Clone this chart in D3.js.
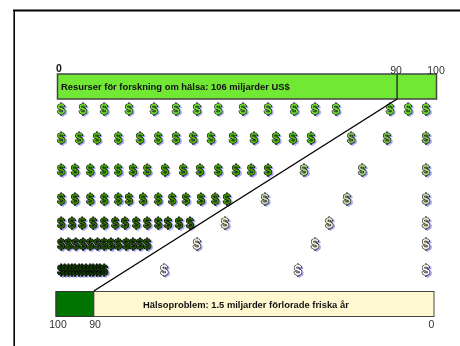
<!DOCTYPE html>
<html><head><meta charset="utf-8">
<script src="https://cdn.jsdelivr.net/npm/d3@7"></script>
<style>html,body{margin:0;background:#fff}svg{display:block;will-change:transform}</style></head>
<body><svg id="c" width="460" height="346"></svg>
<script>
const topTitle = "Resurser för forskning om hälsa: 106 miljarder US$";
const bottomTitle = "Hälsoproblem: 1.5 miljarder förlorade friska år";
const topTicks = [0, 90, 100];
const bottomTicks = [100, 90, 0];
const shareSplitTop = 89.5;
const shareSplitBottom = 90;
const rowLevels = [1, 2, 3, 4, 5, 6, 7];
const row1 = [1.1,6.8,12.4,18.9,25.5,31.3,36.8,42.4,48.9,55.5,62.4,67.9,73.4,87.6,92.4,97.1];
const row2 = [1.1,5.8,10.5,16.1,21.8,26.6,31.3,35.8,40.5,46.3,51.8,57.6,62.1,66.8,77.4,86.8,97.1];
const row3 = [1.1,4.7,8.7,12.4,16.1,20,23.7,28.4,33.2,37.6,42.4,47.1,51.1,55.5,65,80.3,97.1];
const row4 = [1.1,4.7,8.7,12.4,16.1,18.9,22.6,26.6,30.3,33.9,37.9,41.6,44.7,54.7,76.3,97.1];
const row5 = [1.1,3.9,6.6,9.5,12.4,15.3,17.9,20.8,23.7,26.6,29.2,32.1,35,44.2,71.6,97.1];
const row6 = [1.1,3,4.9,6.8,8.7,10.6,12.4,14.2,16.1,18.2,20,21.8,23.7,36.8,67.9,97.1];
const row7 = [1.1,2,3,3.9,4.7,5.8,6.6,7.6,8.7,9.5,10.5,11.3,12.4,28.2,63.4,97.1];
const rows = [row1,row2,row3,row4,row5,row6,row7];
const leftCounts = [16,14,14,13,13,13,13];
const leftColors = ["#70e030","#55c010","#44a800","#3f9000","#2f6b00","#1f5000","#123a00"];
const rightColors = ["#70e030","#80c050","#a8d880","#c8dcb0","#efecc8","#f6f2dc","#ffffff"];

const svg = d3.select("#c");
const x = d3.scaleLinear().domain([0,100]).range([57,437]);
const xb = d3.scaleLinear().domain([100,0]).range([56,434]);
const rowY = d3.scaleOrdinal().domain(rowLevels).range([114,142.5,174.5,203.5,227.5,249,274.5]);
const font = "'Liberation Sans',Arial,sans-serif";

svg.append("path").attr("d","M14 346V10.5H460").attr("fill","none").attr("stroke","#000").attr("stroke-width",2);
svg.append("path").attr("d","M13.5 346V11").attr("fill","none").attr("stroke","#666").attr("stroke-width",1);

svg.append("rect").attr("x",x(0)+.5).attr("y",74).attr("width",x(100)-x(0)-1).attr("height",25)
  .attr("fill","#70e834").attr("stroke","#444").attr("stroke-width",1.5);
svg.append("line").attr("x1",x(shareSplitTop)).attr("x2",x(shareSplitTop)).attr("y1",74).attr("y2",99).attr("stroke","#333").attr("stroke-width",1.5);
svg.append("text").attr("x",x(0)+4).attr("y",90).attr("font-family",font).attr("font-weight","bold").attr("font-size",9.4).attr("fill","#111").text(topTitle);

const glyph = (g,px,py,fill,stroke,sw) => g.append("text").attr("x",px).attr("y",py).attr("text-anchor","middle")
  .attr("font-family",font).attr("font-weight","bold").attr("font-size",14)
  .attr("fill",fill).attr("stroke",stroke).attr("stroke-width",sw).attr("paint-order","stroke").text("$");

rows.forEach((r,i)=>{
  const g = svg.append("g");
  const py = rowY(rowLevels[i]);
  r.forEach((v,j)=>{
    const fill = j < leftCounts[i] ? leftColors[i] : rightColors[i];
    glyph(g,x(v)+1.6,py+1.3,"#a8a8f4","#a8a8f4",1.1);
    glyph(g,x(v),py,fill,"#000",1.1);
  });
});

svg.append("line").attr("x1",x(shareSplitTop)).attr("y1",99).attr("x2",xb(shareSplitBottom)).attr("y2",291).attr("stroke","#000").attr("stroke-width",1.4);

svg.append("rect").attr("x",xb(100)).attr("y",291.5).attr("width",xb(0)-xb(100)).attr("height",25).attr("fill","#fff8d0").attr("stroke","#444").attr("stroke-width",1);
svg.append("rect").attr("x",xb(100)).attr("y",291.5).attr("width",xb(shareSplitBottom)-xb(100)).attr("height",25).attr("fill","#007400").attr("stroke","#333").attr("stroke-width",1);
svg.append("text").attr("x",143).attr("y",308).attr("font-family",font).attr("font-weight","bold").attr("font-size",9.4).attr("fill","#111").text(bottomTitle);

svg.append("text").attr("x",x(0)-1).attr("y",72).attr("font-family",font).attr("font-weight","bold").attr("font-size",10.5).attr("fill","#111").text(topTicks[0]);
svg.selectAll(".tt").data(topTicks.slice(1)).join("text").attr("x",d=>d===100?436:396).attr("y",74).attr("text-anchor","middle")
  .attr("font-family",font).attr("font-size",10.5).attr("fill","#333").text(d=>d);
svg.selectAll(".bt").data(bottomTicks).join("text").attr("x",d=>d===100?58:d===90?95:431.5).attr("y",328).attr("text-anchor","middle")
  .attr("font-family",font).attr("font-size",10.5).attr("fill","#333").text(d=>d);
</script></body></html>
